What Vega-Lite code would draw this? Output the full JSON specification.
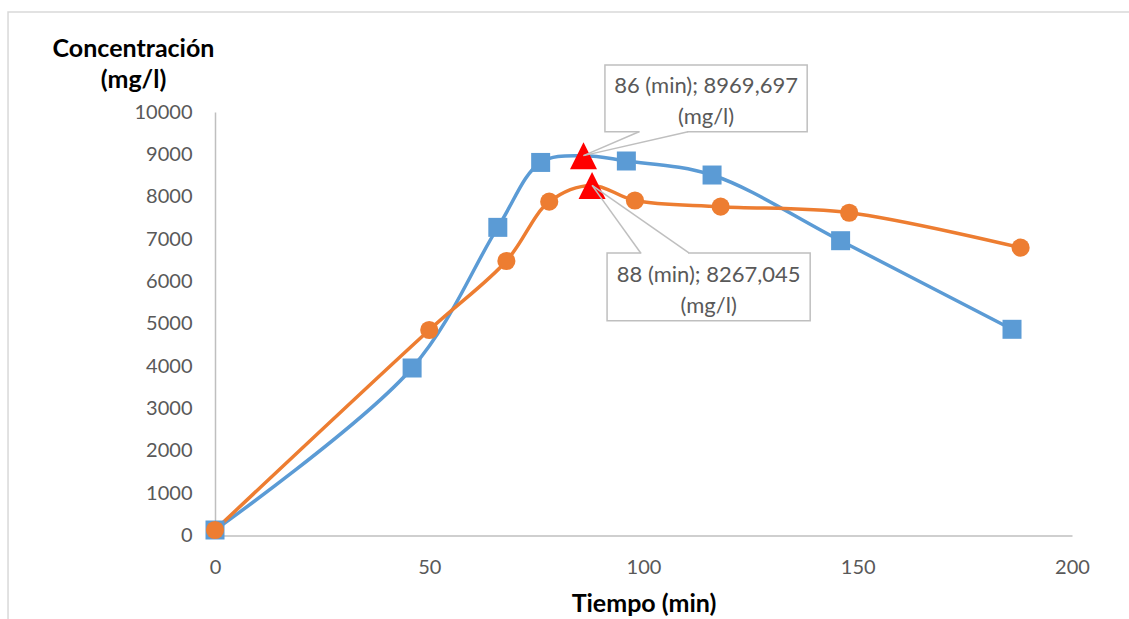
{
  "$schema": "https://vega.github.io/schema/vega-lite/v6.json",
  "width": 857,
  "height": 423.5,
  "autosize": "none",
  "padding": {"left": 215, "top": 112, "right": 57, "bottom": 83.5},
  "background": "white",
  "config": {
    "view": {"stroke": null},
    "font": "Lato",
    "axis": {
      "domainColor": "#bfbfbf",
      "domainWidth": 1.5,
      "ticks": false,
      "tickSize": 0,
      "grid": false,
      "labelFlush": false,
      "labelFont": "Lato",
      "labelFontSize": 20,
      "labelColor": "#595959",
      "titleFont": "Lato",
      "titleFontSize": 25,
      "titleFontWeight": "bold",
      "titleColor": "#000000"
    }
  },
  "datasets": {
    "curvas": [
      {"serie": "A", "tiempo": 0, "concentracion": 130, "maximo": false},
      {"serie": "A", "tiempo": 46, "concentracion": 3955, "maximo": false},
      {"serie": "A", "tiempo": 66, "concentracion": 7276, "maximo": false},
      {"serie": "A", "tiempo": 76, "concentracion": 8809, "maximo": false},
      {"serie": "A", "tiempo": 86, "concentracion": 8969.697, "maximo": true},
      {"serie": "A", "tiempo": 96, "concentracion": 8843, "maximo": false},
      {"serie": "A", "tiempo": 116, "concentracion": 8512, "maximo": false},
      {"serie": "A", "tiempo": 146, "concentracion": 6961, "maximo": false},
      {"serie": "A", "tiempo": 186, "concentracion": 4869, "maximo": false},
      {"serie": "B", "tiempo": 0, "concentracion": 130, "maximo": false},
      {"serie": "B", "tiempo": 50, "concentracion": 4852, "maximo": false},
      {"serie": "B", "tiempo": 68, "concentracion": 6482, "maximo": false},
      {"serie": "B", "tiempo": 78, "concentracion": 7882, "maximo": false},
      {"serie": "B", "tiempo": 88, "concentracion": 8267.045, "maximo": true},
      {"serie": "B", "tiempo": 98, "concentracion": 7910, "maximo": false},
      {"serie": "B", "tiempo": 118, "concentracion": 7765, "maximo": false},
      {"serie": "B", "tiempo": 148, "concentracion": 7622, "maximo": false},
      {"serie": "B", "tiempo": 188, "concentracion": 6796, "maximo": false}
    ]
  },
  "data": {"name": "curvas"},
  "layer": [
    {
      "transform": [{"filter": "datum.serie === 'A'"}],
      "mark": {"type": "line", "color": "#5B9BD5", "strokeWidth": 3.5, "interpolate": "catmull-rom"},
      "encoding": {
        "x": {
          "field": "tiempo", "type": "quantitative",
          "scale": {"domain": [0, 200], "nice": false},
          "axis": {"values": [0, 50, 100, 150, 200], "format": "d", "labelPadding": 22, "title": "Tiempo (min)", "titleBaseline": "alphabetic", "titleY": 76}
        },
        "y": {
          "field": "concentracion", "type": "quantitative",
          "scale": {"domain": [0, 10000], "nice": false},
          "axis": {
            "values": [0, 1000, 2000, 3000, 4000, 5000, 6000, 7000, 8000, 9000, 10000],
            "format": "d",
            "labelPadding": 23,
            "title": ["Concentración", "(mg/l)"],
            "titleAngle": 0, "titleAlign": "center", "titleBaseline": "alphabetic",
            "titleX": -82, "titleY": -56, "titleLineHeight": 31
          }
        }
      }
    },
    {
      "transform": [{"filter": "datum.serie === 'B'"}],
      "mark": {"type": "line", "color": "#ED7D31", "strokeWidth": 3.5, "interpolate": "catmull-rom"},
      "encoding": {
        "x": {"field": "tiempo", "type": "quantitative"},
        "y": {"field": "concentracion", "type": "quantitative"}
      }
    },
    {
      "transform": [{"filter": "datum.serie === 'A' && !datum.maximo"}],
      "mark": {"type": "point", "shape": "square", "filled": true, "color": "#5B9BD5", "size": 361, "opacity": 1},
      "encoding": {
        "x": {"field": "tiempo", "type": "quantitative"},
        "y": {"field": "concentracion", "type": "quantitative"}
      }
    },
    {
      "transform": [{"filter": "datum.serie === 'B' && !datum.maximo"}],
      "mark": {"type": "point", "shape": "circle", "filled": true, "color": "#ED7D31", "size": 330, "opacity": 1},
      "encoding": {
        "x": {"field": "tiempo", "type": "quantitative"},
        "y": {"field": "concentracion", "type": "quantitative"}
      }
    },
    {
      "transform": [{"filter": "datum.maximo"}],
      "mark": {"type": "point", "shape": "M0,-1L1,1L-1,1Z", "filled": true, "color": "#FF0000", "size": 729, "opacity": 1},
      "encoding": {
        "x": {"field": "tiempo", "type": "quantitative"},
        "y": {"field": "concentracion", "type": "quantitative"}
      }
    },
    {
      "data": {"values": [{}]},
      "mark": {"type": "rect", "fill": null, "stroke": "#d9d9d9", "strokeWidth": 1.5, "clip": false},
      "encoding": {
        "x": {"datum": -48.3, "type": "quantitative"},
        "x2": {"datum": 320},
        "y": {"datum": 12361, "type": "quantitative"},
        "y2": {"datum": -4000}
      }
    },
    {
      "data": {"values": [{}]},
      "mark": {"type": "rect", "fill": "white", "stroke": "#bfbfbf", "strokeWidth": 1.5, "clip": false},
      "encoding": {
        "x": {"datum": 91.0, "type": "quantitative"},
        "x2": {"datum": 138.2},
        "y": {"datum": 11110, "type": "quantitative"},
        "y2": {"datum": 9535}
      }
    },
    {
      "data": {"values": [{}]},
      "mark": {"type": "rect", "fill": "white", "stroke": "#bfbfbf", "strokeWidth": 1.5, "clip": false},
      "encoding": {
        "x": {"datum": 91.5, "type": "quantitative"},
        "x2": {"datum": 138.9},
        "y": {"datum": 6671, "type": "quantitative"},
        "y2": {"datum": 5072}
      }
    },
    {
      "data": {"values": [{}]},
      "mark": {"type": "rule", "color": "white", "strokeWidth": 3, "clip": false},
      "encoding": {
        "x": {"datum": 99.1, "type": "quantitative"},
        "x2": {"datum": 110.2},
        "y": {"datum": 9535, "type": "quantitative"},
        "y2": {"datum": 9535}
      }
    },
    {
      "data": {"values": [{}]},
      "mark": {"type": "rule", "color": "white", "strokeWidth": 3, "clip": false},
      "encoding": {
        "x": {"datum": 99.5, "type": "quantitative"},
        "x2": {"datum": 110.4},
        "y": {"datum": 6671, "type": "quantitative"},
        "y2": {"datum": 6671}
      }
    },
    {
      "data": {"values": [{}]},
      "mark": {"type": "rule", "color": "#bfbfbf", "strokeWidth": 1.5},
      "encoding": {
        "x": {"datum": 98.95, "type": "quantitative"},
        "x2": {"datum": 86},
        "y": {"datum": 9535, "type": "quantitative"},
        "y2": {"datum": 8969.697}
      }
    },
    {
      "data": {"values": [{}]},
      "mark": {"type": "rule", "color": "#bfbfbf", "strokeWidth": 1.5},
      "encoding": {
        "x": {"datum": 110.4, "type": "quantitative"},
        "x2": {"datum": 86},
        "y": {"datum": 9535, "type": "quantitative"},
        "y2": {"datum": 8969.697}
      }
    },
    {
      "data": {"values": [{}]},
      "mark": {"type": "rule", "color": "#bfbfbf", "strokeWidth": 1.5},
      "encoding": {
        "x": {"datum": 99.35, "type": "quantitative"},
        "x2": {"datum": 88},
        "y": {"datum": 6671, "type": "quantitative"},
        "y2": {"datum": 8267.045}
      }
    },
    {
      "data": {"values": [{}]},
      "mark": {"type": "rule", "color": "#bfbfbf", "strokeWidth": 1.5},
      "encoding": {
        "x": {"datum": 110.6, "type": "quantitative"},
        "x2": {"datum": 88},
        "y": {"datum": 6671, "type": "quantitative"},
        "y2": {"datum": 8267.045}
      }
    },
    {
      "data": {"values": [{}]},
      "mark": {"type": "text", "font": "Lato", "fontSize": 22, "color": "#595959", "align": "center", "baseline": "alphabetic", "lineHeight": 31, "clip": false},
      "encoding": {
        "x": {"datum": 114.6, "type": "quantitative"},
        "y": {"datum": 10440, "type": "quantitative"},
        "text": {"value": ["86 (min); 8969,697", "(mg/l)"]}
      }
    },
    {
      "data": {"values": [{}]},
      "mark": {"type": "text", "font": "Lato", "fontSize": 22, "color": "#595959", "align": "center", "baseline": "alphabetic", "lineHeight": 31, "clip": false},
      "encoding": {
        "x": {"datum": 115.2, "type": "quantitative"},
        "y": {"datum": 5994, "type": "quantitative"},
        "text": {"value": ["88 (min); 8267,045", "(mg/l)"]}
      }
    }
  ]
}
